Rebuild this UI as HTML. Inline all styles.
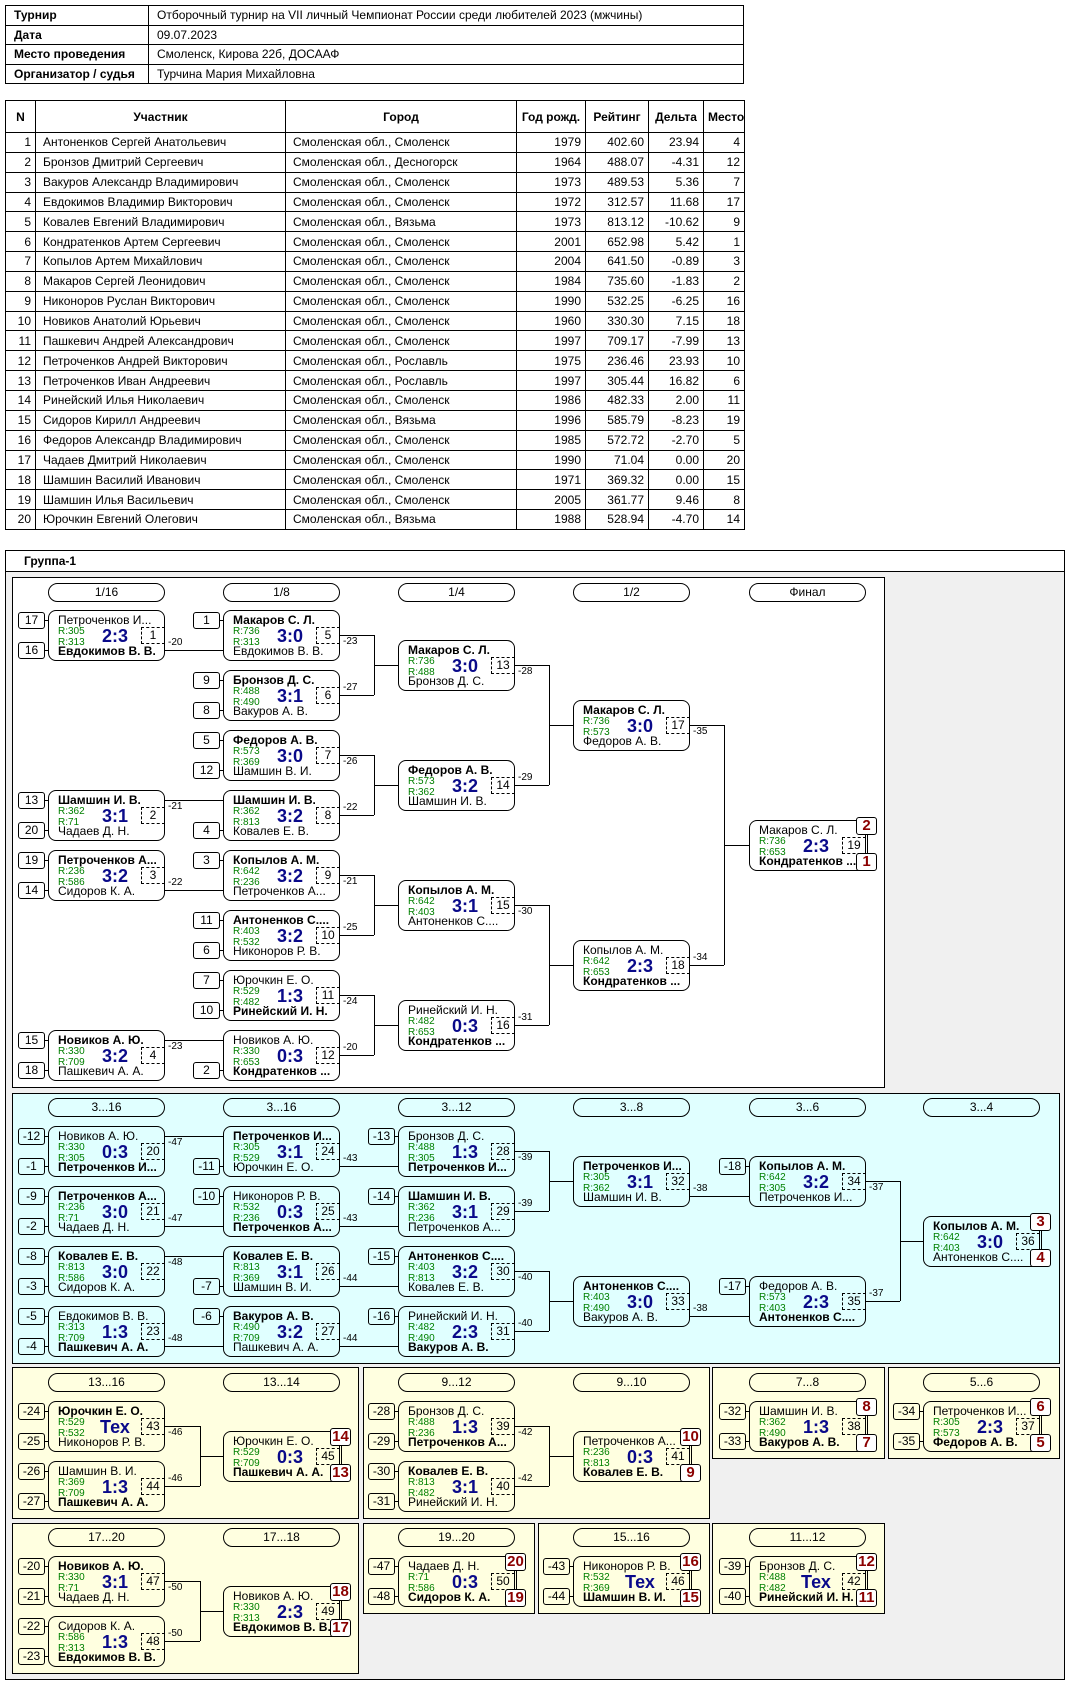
<!DOCTYPE html>
<html><head><meta charset="utf-8">
<style>
*{margin:0;padding:0;box-sizing:border-box}
body{width:1070px;height:1685px;background:#fff;font-family:"Liberation Sans",Arial,sans-serif;font-size:12px;color:#000;position:relative;overflow:hidden}
.abs{position:absolute}
table{border-collapse:collapse;position:absolute;table-layout:fixed}
td{border:1px solid #000;white-space:nowrap;overflow:hidden;font-size:12px;line-height:14px}
.it td{height:19.5px;padding:0 8px}
.it td.hb{font-weight:bold}
.pt td{height:19.85px;padding:0 4px}
.pt tr.hd td{height:32px;font-weight:bold;text-align:center}
.pt td.ra{text-align:right}
.pt td.la{padding-left:7px}
.sec{position:absolute;border:1px solid #000}
.pill{position:absolute;width:117px;height:19px;border:1px solid #000;border-radius:10px;text-align:center;line-height:17px;font-size:12px}
.m{position:absolute;width:117px;height:51px;border:1px solid #000;border-radius:8px}
.m span{position:absolute;white-space:nowrap}
.t{left:9px;top:2px;font-size:12px;line-height:14px}
.u{left:9px;top:33px;font-size:12px;line-height:14px}
.k{font-weight:bold}
.r1,.r2{left:9px;font-size:10px;line-height:11px;color:#008000}
.r1{top:15px}.r2{top:26px}
.s{left:38px;width:56px;text-align:center;top:15px;font-weight:bold;font-size:18px;line-height:20px;color:#0a0a8a}
.g{right:-1px;top:16px;width:24px;height:17px;border:1px dashed #000;text-align:center;font-size:12px;line-height:15px}
.sd{position:absolute;width:27px;height:17px;border:1px solid #000;border-radius:3px;text-align:center;font-size:12px;line-height:15px}
.sd:after{content:"";position:absolute;right:-4px;top:7px;width:3px;border-top:1px solid #000}
.p{position:absolute;width:21px;height:18px;border:1px solid #000;border-radius:3px;background:#fff;text-align:center;font-weight:bold;font-size:15px;line-height:16px;color:#8b0000}
.h{position:absolute;height:0;border-top:1px solid #000}
.v{position:absolute;width:0;border-left:1px solid #000}
.l{position:absolute;font-size:10px;line-height:12px}
</style></head><body>

<table class="it" style="left:5px;top:5px;width:739px">
<colgroup><col style="width:143px"><col></colgroup>
<tr><td class="hb">Турнир</td><td>Отборочный турнир на VII личный Чемпионат России среди любителей 2023 (мжчины)</td></tr>
<tr><td class="hb">Дата</td><td>09.07.2023</td></tr>
<tr><td class="hb">Место проведения</td><td>Смоленск, Кирова 22б, ДОСААФ</td></tr>
<tr><td class="hb">Организатор / судья</td><td>Турчина Мария Михайловна</td></tr>
</table>

<table class="pt" style="left:5px;top:100px;width:739px">
<colgroup><col style="width:30px"><col style="width:250px"><col style="width:231px"><col style="width:69px"><col style="width:63px"><col style="width:55px"><col style="width:41px"></colgroup>
<tr class="hd"><td>N</td><td>Участник</td><td>Город</td><td>Год рожд.</td><td>Рейтинг</td><td>Дельта</td><td>Место</td></tr>
<tr><td class="ra">1</td><td class="la">Антоненков Сергей Анатольевич</td><td class="la">Смоленская обл., Смоленск</td><td class="ra">1979</td><td class="ra">402.60</td><td class="ra">23.94</td><td class="ra">4</td></tr>
<tr><td class="ra">2</td><td class="la">Бронзов Дмитрий Сергеевич</td><td class="la">Смоленская обл., Десногорск</td><td class="ra">1964</td><td class="ra">488.07</td><td class="ra">-4.31</td><td class="ra">12</td></tr>
<tr><td class="ra">3</td><td class="la">Вакуров Александр Владимирович</td><td class="la">Смоленская обл., Смоленск</td><td class="ra">1973</td><td class="ra">489.53</td><td class="ra">5.36</td><td class="ra">7</td></tr>
<tr><td class="ra">4</td><td class="la">Евдокимов Владимир Викторович</td><td class="la">Смоленская обл., Смоленск</td><td class="ra">1972</td><td class="ra">312.57</td><td class="ra">11.68</td><td class="ra">17</td></tr>
<tr><td class="ra">5</td><td class="la">Ковалев Евгений Владимирович</td><td class="la">Смоленская обл., Вязьма</td><td class="ra">1973</td><td class="ra">813.12</td><td class="ra">-10.62</td><td class="ra">9</td></tr>
<tr><td class="ra">6</td><td class="la">Кондратенков Артем Сергеевич</td><td class="la">Смоленская обл., Смоленск</td><td class="ra">2001</td><td class="ra">652.98</td><td class="ra">5.42</td><td class="ra">1</td></tr>
<tr><td class="ra">7</td><td class="la">Копылов Артем Михайлович</td><td class="la">Смоленская обл., Смоленск</td><td class="ra">2004</td><td class="ra">641.50</td><td class="ra">-0.89</td><td class="ra">3</td></tr>
<tr><td class="ra">8</td><td class="la">Макаров Сергей Леонидович</td><td class="la">Смоленская обл., Смоленск</td><td class="ra">1984</td><td class="ra">735.60</td><td class="ra">-1.83</td><td class="ra">2</td></tr>
<tr><td class="ra">9</td><td class="la">Никоноров Руслан Викторович</td><td class="la">Смоленская обл., Смоленск</td><td class="ra">1990</td><td class="ra">532.25</td><td class="ra">-6.25</td><td class="ra">16</td></tr>
<tr><td class="ra">10</td><td class="la">Новиков Анатолий Юрьевич</td><td class="la">Смоленская обл., Смоленск</td><td class="ra">1960</td><td class="ra">330.30</td><td class="ra">7.15</td><td class="ra">18</td></tr>
<tr><td class="ra">11</td><td class="la">Пашкевич Андрей Александрович</td><td class="la">Смоленская обл., Смоленск</td><td class="ra">1997</td><td class="ra">709.17</td><td class="ra">-7.99</td><td class="ra">13</td></tr>
<tr><td class="ra">12</td><td class="la">Петроченков Андрей Викторович</td><td class="la">Смоленская обл., Рославль</td><td class="ra">1975</td><td class="ra">236.46</td><td class="ra">23.93</td><td class="ra">10</td></tr>
<tr><td class="ra">13</td><td class="la">Петроченков Иван Андреевич</td><td class="la">Смоленская обл., Рославль</td><td class="ra">1997</td><td class="ra">305.44</td><td class="ra">16.82</td><td class="ra">6</td></tr>
<tr><td class="ra">14</td><td class="la">Ринейский Илья Николаевич</td><td class="la">Смоленская обл., Смоленск</td><td class="ra">1986</td><td class="ra">482.33</td><td class="ra">2.00</td><td class="ra">11</td></tr>
<tr><td class="ra">15</td><td class="la">Сидоров Кирилл Андреевич</td><td class="la">Смоленская обл., Вязьма</td><td class="ra">1996</td><td class="ra">585.79</td><td class="ra">-8.23</td><td class="ra">19</td></tr>
<tr><td class="ra">16</td><td class="la">Федоров Александр Владимирович</td><td class="la">Смоленская обл., Смоленск</td><td class="ra">1985</td><td class="ra">572.72</td><td class="ra">-2.70</td><td class="ra">5</td></tr>
<tr><td class="ra">17</td><td class="la">Чадаев Дмитрий Николаевич</td><td class="la">Смоленская обл., Смоленск</td><td class="ra">1990</td><td class="ra">71.04</td><td class="ra">0.00</td><td class="ra">20</td></tr>
<tr><td class="ra">18</td><td class="la">Шамшин Василий Иванович</td><td class="la">Смоленская обл., Смоленск</td><td class="ra">1971</td><td class="ra">369.32</td><td class="ra">0.00</td><td class="ra">15</td></tr>
<tr><td class="ra">19</td><td class="la">Шамшин Илья Васильевич</td><td class="la">Смоленская обл., Смоленск</td><td class="ra">2005</td><td class="ra">361.77</td><td class="ra">9.46</td><td class="ra">8</td></tr>
<tr><td class="ra">20</td><td class="la">Юрочкин Евгений Олегович</td><td class="la">Смоленская обл., Вязьма</td><td class="ra">1988</td><td class="ra">528.94</td><td class="ra">-4.70</td><td class="ra">14</td></tr>
</table>

<!-- group box -->
<div class="sec" style="left:5px;top:550px;width:1060px;height:1130px;background:#f0f0f0"></div>
<div class="sec" style="left:5px;top:550px;width:1060px;height:22px;background:#fff"></div>
<div class="abs" style="left:24px;top:554px;font-weight:bold;font-size:12px">Группа-1</div>

<!-- sections -->
<div class="sec" style="left:12px;top:577px;width:873px;height:511px;background:#fff"></div>
<div class="sec" style="left:12px;top:1093px;width:1048px;height:271px;background:#e0ffff"></div>
<div class="sec" style="left:12px;top:1367px;width:347px;height:152px;background:#ffffe0"></div>
<div class="sec" style="left:363px;top:1367px;width:347px;height:152px;background:#ffffe0"></div>
<div class="sec" style="left:712px;top:1367px;width:173px;height:92px;background:#ffffe0"></div>
<div class="sec" style="left:888px;top:1367px;width:172px;height:92px;background:#ffffe0"></div>
<div class="sec" style="left:12px;top:1523px;width:347px;height:151px;background:#ffffe0"></div>
<div class="sec" style="left:363px;top:1523px;width:172px;height:91px;background:#ffffe0"></div>
<div class="sec" style="left:538px;top:1523px;width:172px;height:91px;background:#ffffe0"></div>
<div class="sec" style="left:712px;top:1523px;width:173px;height:91px;background:#ffffe0"></div>

<!-- pills -->
<div class="pill" style="left:48px;top:583px">1/16</div>
<div class="pill" style="left:223px;top:583px">1/8</div>
<div class="pill" style="left:398px;top:583px">1/4</div>
<div class="pill" style="left:573px;top:583px">1/2</div>
<div class="pill" style="left:749px;top:583px">Финал</div>
<div class="pill" style="left:48px;top:1098px">3...16</div>
<div class="pill" style="left:223px;top:1098px">3...16</div>
<div class="pill" style="left:398px;top:1098px">3...12</div>
<div class="pill" style="left:573px;top:1098px">3...8</div>
<div class="pill" style="left:749px;top:1098px">3...6</div>
<div class="pill" style="left:923px;top:1098px">3...4</div>
<div class="pill" style="left:48px;top:1373px">13...16</div>
<div class="pill" style="left:223px;top:1373px">13...14</div>
<div class="pill" style="left:398px;top:1373px">9...12</div>
<div class="pill" style="left:573px;top:1373px">9...10</div>
<div class="pill" style="left:749px;top:1373px">7...8</div>
<div class="pill" style="left:923px;top:1373px">5...6</div>
<div class="pill" style="left:48px;top:1528px">17...20</div>
<div class="pill" style="left:223px;top:1528px">17...18</div>
<div class="pill" style="left:398px;top:1528px">19...20</div>
<div class="pill" style="left:573px;top:1528px">15...16</div>
<div class="pill" style="left:749px;top:1528px">11...12</div>

<!-- ===== MAIN LINES ===== -->
<div class="h" style="left:165px;top:650px;width:58px"></div><div class="l" style="left:168px;top:637px">-20</div>
<div class="h" style="left:165px;top:800px;width:58px"></div><div class="l" style="left:168px;top:801px">-21</div>
<div class="h" style="left:165px;top:890px;width:58px"></div><div class="l" style="left:168px;top:877px">-22</div>
<div class="h" style="left:165px;top:1040px;width:58px"></div><div class="l" style="left:168px;top:1041px">-23</div>

<div class="h" style="left:340px;top:635px;width:34px"></div><div class="h" style="left:340px;top:695px;width:34px"></div><div class="v" style="left:374px;top:635px;height:60px"></div><div class="h" style="left:374px;top:665px;width:24px"></div>
<div class="l" style="left:343px;top:636px">-23</div><div class="l" style="left:343px;top:682px">-27</div>
<div class="h" style="left:340px;top:755px;width:34px"></div><div class="h" style="left:340px;top:815px;width:34px"></div><div class="v" style="left:374px;top:755px;height:60px"></div><div class="h" style="left:374px;top:785px;width:24px"></div>
<div class="l" style="left:343px;top:756px">-26</div><div class="l" style="left:343px;top:802px">-22</div>
<div class="h" style="left:340px;top:875px;width:34px"></div><div class="h" style="left:340px;top:935px;width:34px"></div><div class="v" style="left:374px;top:875px;height:60px"></div><div class="h" style="left:374px;top:905px;width:24px"></div>
<div class="l" style="left:343px;top:876px">-21</div><div class="l" style="left:343px;top:922px">-25</div>
<div class="h" style="left:340px;top:995px;width:34px"></div><div class="h" style="left:340px;top:1055px;width:34px"></div><div class="v" style="left:374px;top:995px;height:60px"></div><div class="h" style="left:374px;top:1025px;width:24px"></div>
<div class="l" style="left:343px;top:996px">-24</div><div class="l" style="left:343px;top:1042px">-20</div>

<div class="h" style="left:515px;top:665px;width:34px"></div><div class="h" style="left:515px;top:785px;width:34px"></div><div class="v" style="left:549px;top:665px;height:120px"></div><div class="h" style="left:549px;top:725px;width:24px"></div>
<div class="l" style="left:518px;top:666px">-28</div><div class="l" style="left:518px;top:772px">-29</div>
<div class="h" style="left:515px;top:905px;width:34px"></div><div class="h" style="left:515px;top:1025px;width:34px"></div><div class="v" style="left:549px;top:905px;height:120px"></div><div class="h" style="left:549px;top:965px;width:24px"></div>
<div class="l" style="left:518px;top:906px">-30</div><div class="l" style="left:518px;top:1012px">-31</div>

<div class="h" style="left:690px;top:725px;width:34px"></div><div class="h" style="left:690px;top:965px;width:34px"></div><div class="v" style="left:724px;top:725px;height:240px"></div><div class="h" style="left:724px;top:845px;width:25px"></div>
<div class="l" style="left:693px;top:726px">-35</div><div class="l" style="left:693px;top:952px">-34</div>

<!-- ===== CYAN LINES ===== -->
<div class="h" style="left:165px;top:1136px;width:58px"></div><div class="l" style="left:168px;top:1137px">-47</div>
<div class="h" style="left:165px;top:1226px;width:58px"></div><div class="l" style="left:168px;top:1213px">-47</div>
<div class="h" style="left:165px;top:1256px;width:58px"></div><div class="l" style="left:168px;top:1257px">-48</div>
<div class="h" style="left:165px;top:1346px;width:58px"></div><div class="l" style="left:168px;top:1333px">-48</div>
<div class="h" style="left:340px;top:1166px;width:58px"></div><div class="l" style="left:343px;top:1153px">-43</div>
<div class="h" style="left:340px;top:1226px;width:58px"></div><div class="l" style="left:343px;top:1213px">-43</div>
<div class="h" style="left:340px;top:1286px;width:58px"></div><div class="l" style="left:343px;top:1273px">-44</div>
<div class="h" style="left:340px;top:1346px;width:58px"></div><div class="l" style="left:343px;top:1333px">-44</div>

<div class="h" style="left:515px;top:1151px;width:34px"></div><div class="h" style="left:515px;top:1211px;width:34px"></div><div class="v" style="left:549px;top:1151px;height:60px"></div><div class="h" style="left:549px;top:1181px;width:24px"></div>
<div class="l" style="left:518px;top:1152px">-39</div><div class="l" style="left:518px;top:1198px">-39</div>
<div class="h" style="left:515px;top:1271px;width:34px"></div><div class="h" style="left:515px;top:1331px;width:34px"></div><div class="v" style="left:549px;top:1271px;height:60px"></div><div class="h" style="left:549px;top:1301px;width:24px"></div>
<div class="l" style="left:518px;top:1272px">-40</div><div class="l" style="left:518px;top:1318px">-40</div>

<div class="h" style="left:690px;top:1196px;width:59px"></div><div class="l" style="left:693px;top:1183px">-38</div>
<div class="h" style="left:690px;top:1316px;width:59px"></div><div class="l" style="left:693px;top:1303px">-38</div>

<div class="h" style="left:866px;top:1181px;width:34px"></div><div class="h" style="left:866px;top:1301px;width:34px"></div><div class="v" style="left:900px;top:1181px;height:120px"></div><div class="h" style="left:900px;top:1241px;width:23px"></div>
<div class="l" style="left:869px;top:1182px">-37</div><div class="l" style="left:869px;top:1288px">-37</div>

<!-- ===== YELLOW LINES ===== -->
<div class="h" style="left:165px;top:1426px;width:35px"></div><div class="h" style="left:165px;top:1486px;width:35px"></div><div class="v" style="left:200px;top:1426px;height:60px"></div><div class="h" style="left:200px;top:1456px;width:23px"></div>
<div class="l" style="left:168px;top:1427px">-46</div><div class="l" style="left:168px;top:1473px">-46</div>
<div class="h" style="left:515px;top:1426px;width:34px"></div><div class="h" style="left:515px;top:1486px;width:34px"></div><div class="v" style="left:549px;top:1426px;height:60px"></div><div class="h" style="left:549px;top:1456px;width:24px"></div>
<div class="l" style="left:518px;top:1427px">-42</div><div class="l" style="left:518px;top:1473px">-42</div>
<div class="h" style="left:165px;top:1581px;width:35px"></div><div class="h" style="left:165px;top:1641px;width:35px"></div><div class="v" style="left:200px;top:1581px;height:60px"></div><div class="h" style="left:200px;top:1611px;width:23px"></div>
<div class="l" style="left:168px;top:1582px">-50</div><div class="l" style="left:168px;top:1628px">-50</div>

<!-- ===== SEEDS ===== -->
<div class="sd" style="left:18px;top:612px">17</div><div class="sd" style="left:18px;top:642px">16</div>
<div class="sd" style="left:18px;top:792px">13</div><div class="sd" style="left:18px;top:822px">20</div>
<div class="sd" style="left:18px;top:852px">19</div><div class="sd" style="left:18px;top:882px">14</div>
<div class="sd" style="left:18px;top:1032px">15</div><div class="sd" style="left:18px;top:1062px">18</div>
<div class="sd" style="left:193px;top:612px">1</div>
<div class="sd" style="left:193px;top:672px">9</div><div class="sd" style="left:193px;top:702px">8</div>
<div class="sd" style="left:193px;top:732px">5</div><div class="sd" style="left:193px;top:762px">12</div>
<div class="sd" style="left:193px;top:822px">4</div>
<div class="sd" style="left:193px;top:852px">3</div>
<div class="sd" style="left:193px;top:912px">11</div><div class="sd" style="left:193px;top:942px">6</div>
<div class="sd" style="left:193px;top:972px">7</div><div class="sd" style="left:193px;top:1002px">10</div>
<div class="sd" style="left:193px;top:1062px">2</div>

<div class="sd" style="left:18px;top:1128px">-12</div><div class="sd" style="left:18px;top:1158px">-1</div>
<div class="sd" style="left:18px;top:1188px">-9</div><div class="sd" style="left:18px;top:1218px">-2</div>
<div class="sd" style="left:18px;top:1248px">-8</div><div class="sd" style="left:18px;top:1278px">-3</div>
<div class="sd" style="left:18px;top:1308px">-5</div><div class="sd" style="left:18px;top:1338px">-4</div>
<div class="sd" style="left:193px;top:1158px">-11</div>
<div class="sd" style="left:193px;top:1188px">-10</div>
<div class="sd" style="left:193px;top:1278px">-7</div>
<div class="sd" style="left:193px;top:1308px">-6</div>
<div class="sd" style="left:368px;top:1128px">-13</div>
<div class="sd" style="left:368px;top:1188px">-14</div>
<div class="sd" style="left:368px;top:1248px">-15</div>
<div class="sd" style="left:368px;top:1308px">-16</div>
<div class="sd" style="left:719px;top:1158px">-18</div>
<div class="sd" style="left:719px;top:1278px">-17</div>

<div class="sd" style="left:18px;top:1403px">-24</div><div class="sd" style="left:18px;top:1433px">-25</div>
<div class="sd" style="left:18px;top:1463px">-26</div><div class="sd" style="left:18px;top:1493px">-27</div>
<div class="sd" style="left:368px;top:1403px">-28</div><div class="sd" style="left:368px;top:1433px">-29</div>
<div class="sd" style="left:368px;top:1463px">-30</div><div class="sd" style="left:368px;top:1493px">-31</div>
<div class="sd" style="left:719px;top:1403px">-32</div><div class="sd" style="left:719px;top:1433px">-33</div>
<div class="sd" style="left:893px;top:1403px">-34</div><div class="sd" style="left:893px;top:1433px">-35</div>
<div class="sd" style="left:18px;top:1558px">-20</div><div class="sd" style="left:18px;top:1588px">-21</div>
<div class="sd" style="left:18px;top:1618px">-22</div><div class="sd" style="left:18px;top:1648px">-23</div>
<div class="sd" style="left:368px;top:1558px">-47</div><div class="sd" style="left:368px;top:1588px">-48</div>
<div class="sd" style="left:543px;top:1558px">-43</div><div class="sd" style="left:543px;top:1588px">-44</div>
<div class="sd" style="left:719px;top:1558px">-39</div><div class="sd" style="left:719px;top:1588px">-40</div>

<!-- ===== MATCHES MAIN ===== -->
<div class="m" style="left:48px;top:610px"><span class="t">Петроченков И...</span><span class="r1">R:305</span><span class="r2">R:313</span><span class="s">2:3</span><span class="g">1</span><span class="u k">Евдокимов В. В.</span></div>
<div class="m" style="left:48px;top:790px"><span class="t k">Шамшин И. В.</span><span class="r1">R:362</span><span class="r2">R:71</span><span class="s">3:1</span><span class="g">2</span><span class="u">Чадаев Д. Н.</span></div>
<div class="m" style="left:48px;top:850px"><span class="t k">Петроченков А...</span><span class="r1">R:236</span><span class="r2">R:586</span><span class="s">3:2</span><span class="g">3</span><span class="u">Сидоров К. А.</span></div>
<div class="m" style="left:48px;top:1030px"><span class="t k">Новиков А. Ю.</span><span class="r1">R:330</span><span class="r2">R:709</span><span class="s">3:2</span><span class="g">4</span><span class="u">Пашкевич А. А.</span></div>

<div class="m" style="left:223px;top:610px"><span class="t k">Макаров С. Л.</span><span class="r1">R:736</span><span class="r2">R:313</span><span class="s">3:0</span><span class="g">5</span><span class="u">Евдокимов В. В.</span></div>
<div class="m" style="left:223px;top:670px"><span class="t k">Бронзов Д. С.</span><span class="r1">R:488</span><span class="r2">R:490</span><span class="s">3:1</span><span class="g">6</span><span class="u">Вакуров А. В.</span></div>
<div class="m" style="left:223px;top:730px"><span class="t k">Федоров А. В.</span><span class="r1">R:573</span><span class="r2">R:369</span><span class="s">3:0</span><span class="g">7</span><span class="u">Шамшин В. И.</span></div>
<div class="m" style="left:223px;top:790px"><span class="t k">Шамшин И. В.</span><span class="r1">R:362</span><span class="r2">R:813</span><span class="s">3:2</span><span class="g">8</span><span class="u">Ковалев Е. В.</span></div>
<div class="m" style="left:223px;top:850px"><span class="t k">Копылов А. М.</span><span class="r1">R:642</span><span class="r2">R:236</span><span class="s">3:2</span><span class="g">9</span><span class="u">Петроченков А...</span></div>
<div class="m" style="left:223px;top:910px"><span class="t k">Антоненков С....</span><span class="r1">R:403</span><span class="r2">R:532</span><span class="s">3:2</span><span class="g">10</span><span class="u">Никоноров Р. В.</span></div>
<div class="m" style="left:223px;top:970px"><span class="t">Юрочкин Е. О.</span><span class="r1">R:529</span><span class="r2">R:482</span><span class="s">1:3</span><span class="g">11</span><span class="u k">Ринейский И. Н.</span></div>
<div class="m" style="left:223px;top:1030px"><span class="t">Новиков А. Ю.</span><span class="r1">R:330</span><span class="r2">R:653</span><span class="s">0:3</span><span class="g">12</span><span class="u k">Кондратенков ...</span></div>

<div class="m" style="left:398px;top:640px"><span class="t k">Макаров С. Л.</span><span class="r1">R:736</span><span class="r2">R:488</span><span class="s">3:0</span><span class="g">13</span><span class="u">Бронзов Д. С.</span></div>
<div class="m" style="left:398px;top:760px"><span class="t k">Федоров А. В.</span><span class="r1">R:573</span><span class="r2">R:362</span><span class="s">3:2</span><span class="g">14</span><span class="u">Шамшин И. В.</span></div>
<div class="m" style="left:398px;top:880px"><span class="t k">Копылов А. М.</span><span class="r1">R:642</span><span class="r2">R:403</span><span class="s">3:1</span><span class="g">15</span><span class="u">Антоненков С....</span></div>
<div class="m" style="left:398px;top:1000px"><span class="t">Ринейский И. Н.</span><span class="r1">R:482</span><span class="r2">R:653</span><span class="s">0:3</span><span class="g">16</span><span class="u k">Кондратенков ...</span></div>

<div class="m" style="left:573px;top:700px"><span class="t k">Макаров С. Л.</span><span class="r1">R:736</span><span class="r2">R:573</span><span class="s">3:0</span><span class="g">17</span><span class="u">Федоров А. В.</span></div>
<div class="m" style="left:573px;top:940px"><span class="t">Копылов А. М.</span><span class="r1">R:642</span><span class="r2">R:653</span><span class="s">2:3</span><span class="g">18</span><span class="u k">Кондратенков ...</span></div>

<div class="m" style="left:749px;top:820px"><span class="t">Макаров С. Л.</span><span class="r1">R:736</span><span class="r2">R:653</span><span class="s">2:3</span><span class="g">19</span><span class="u k">Кондратенков ...</span></div>
<div class="v" style="left:867px;top:835px;height:18px"></div>
<div class="p" style="left:856px;top:817px">2</div><div class="p" style="left:856px;top:853px">1</div>

<!-- ===== MATCHES CYAN ===== -->
<div class="m" style="left:48px;top:1126px"><span class="t">Новиков А. Ю.</span><span class="r1">R:330</span><span class="r2">R:305</span><span class="s">0:3</span><span class="g">20</span><span class="u k">Петроченков И...</span></div>
<div class="m" style="left:48px;top:1186px"><span class="t k">Петроченков А...</span><span class="r1">R:236</span><span class="r2">R:71</span><span class="s">3:0</span><span class="g">21</span><span class="u">Чадаев Д. Н.</span></div>
<div class="m" style="left:48px;top:1246px"><span class="t k">Ковалев Е. В.</span><span class="r1">R:813</span><span class="r2">R:586</span><span class="s">3:0</span><span class="g">22</span><span class="u">Сидоров К. А.</span></div>
<div class="m" style="left:48px;top:1306px"><span class="t">Евдокимов В. В.</span><span class="r1">R:313</span><span class="r2">R:709</span><span class="s">1:3</span><span class="g">23</span><span class="u k">Пашкевич А. А.</span></div>

<div class="m" style="left:223px;top:1126px"><span class="t k">Петроченков И...</span><span class="r1">R:305</span><span class="r2">R:529</span><span class="s">3:1</span><span class="g">24</span><span class="u">Юрочкин Е. О.</span></div>
<div class="m" style="left:223px;top:1186px"><span class="t">Никоноров Р. В.</span><span class="r1">R:532</span><span class="r2">R:236</span><span class="s">0:3</span><span class="g">25</span><span class="u k">Петроченков А...</span></div>
<div class="m" style="left:223px;top:1246px"><span class="t k">Ковалев Е. В.</span><span class="r1">R:813</span><span class="r2">R:369</span><span class="s">3:1</span><span class="g">26</span><span class="u">Шамшин В. И.</span></div>
<div class="m" style="left:223px;top:1306px"><span class="t k">Вакуров А. В.</span><span class="r1">R:490</span><span class="r2">R:709</span><span class="s">3:2</span><span class="g">27</span><span class="u">Пашкевич А. А.</span></div>

<div class="m" style="left:398px;top:1126px"><span class="t">Бронзов Д. С.</span><span class="r1">R:488</span><span class="r2">R:305</span><span class="s">1:3</span><span class="g">28</span><span class="u k">Петроченков И...</span></div>
<div class="m" style="left:398px;top:1186px"><span class="t k">Шамшин И. В.</span><span class="r1">R:362</span><span class="r2">R:236</span><span class="s">3:1</span><span class="g">29</span><span class="u">Петроченков А...</span></div>
<div class="m" style="left:398px;top:1246px"><span class="t k">Антоненков С....</span><span class="r1">R:403</span><span class="r2">R:813</span><span class="s">3:2</span><span class="g">30</span><span class="u">Ковалев Е. В.</span></div>
<div class="m" style="left:398px;top:1306px"><span class="t">Ринейский И. Н.</span><span class="r1">R:482</span><span class="r2">R:490</span><span class="s">2:3</span><span class="g">31</span><span class="u k">Вакуров А. В.</span></div>

<div class="m" style="left:573px;top:1156px"><span class="t k">Петроченков И...</span><span class="r1">R:305</span><span class="r2">R:362</span><span class="s">3:1</span><span class="g">32</span><span class="u">Шамшин И. В.</span></div>
<div class="m" style="left:573px;top:1276px"><span class="t k">Антоненков С....</span><span class="r1">R:403</span><span class="r2">R:490</span><span class="s">3:0</span><span class="g">33</span><span class="u">Вакуров А. В.</span></div>

<div class="m" style="left:749px;top:1156px"><span class="t k">Копылов А. М.</span><span class="r1">R:642</span><span class="r2">R:305</span><span class="s">3:2</span><span class="g">34</span><span class="u">Петроченков И...</span></div>
<div class="m" style="left:749px;top:1276px"><span class="t">Федоров А. В.</span><span class="r1">R:573</span><span class="r2">R:403</span><span class="s">2:3</span><span class="g">35</span><span class="u k">Антоненков С....</span></div>

<div class="m" style="left:923px;top:1216px"><span class="t k">Копылов А. М.</span><span class="r1">R:642</span><span class="r2">R:403</span><span class="s">3:0</span><span class="g">36</span><span class="u">Антоненков С....</span></div>
<div class="v" style="left:1041px;top:1231px;height:18px"></div>
<div class="p" style="left:1030px;top:1213px">3</div><div class="p" style="left:1030px;top:1249px">4</div>

<!-- ===== MATCHES YELLOW ===== -->
<div class="m" style="left:48px;top:1401px"><span class="t k">Юрочкин Е. О.</span><span class="r1">R:529</span><span class="r2">R:532</span><span class="s">Тех</span><span class="g">43</span><span class="u">Никоноров Р. В.</span></div>
<div class="m" style="left:48px;top:1461px"><span class="t">Шамшин В. И.</span><span class="r1">R:369</span><span class="r2">R:709</span><span class="s">1:3</span><span class="g">44</span><span class="u k">Пашкевич А. А.</span></div>
<div class="m" style="left:223px;top:1431px"><span class="t">Юрочкин Е. О.</span><span class="r1">R:529</span><span class="r2">R:709</span><span class="s">0:3</span><span class="g">45</span><span class="u k">Пашкевич А. А.</span></div>
<div class="v" style="left:341px;top:1446px;height:18px"></div>
<div class="p" style="left:330px;top:1428px">14</div><div class="p" style="left:330px;top:1464px">13</div>

<div class="m" style="left:398px;top:1401px"><span class="t">Бронзов Д. С.</span><span class="r1">R:488</span><span class="r2">R:236</span><span class="s">1:3</span><span class="g">39</span><span class="u k">Петроченков А...</span></div>
<div class="m" style="left:398px;top:1461px"><span class="t k">Ковалев Е. В.</span><span class="r1">R:813</span><span class="r2">R:482</span><span class="s">3:1</span><span class="g">40</span><span class="u">Ринейский И. Н.</span></div>
<div class="m" style="left:573px;top:1431px"><span class="t">Петроченков А...</span><span class="r1">R:236</span><span class="r2">R:813</span><span class="s">0:3</span><span class="g">41</span><span class="u k">Ковалев Е. В.</span></div>
<div class="v" style="left:691px;top:1446px;height:18px"></div>
<div class="p" style="left:680px;top:1428px">10</div><div class="p" style="left:680px;top:1464px">9</div>

<div class="m" style="left:749px;top:1401px"><span class="t">Шамшин И. В.</span><span class="r1">R:362</span><span class="r2">R:490</span><span class="s">1:3</span><span class="g">38</span><span class="u k">Вакуров А. В.</span></div>
<div class="v" style="left:867px;top:1416px;height:18px"></div>
<div class="p" style="left:856px;top:1398px">8</div><div class="p" style="left:856px;top:1434px">7</div>

<div class="m" style="left:923px;top:1401px"><span class="t">Петроченков И...</span><span class="r1">R:305</span><span class="r2">R:573</span><span class="s">2:3</span><span class="g">37</span><span class="u k">Федоров А. В.</span></div>
<div class="v" style="left:1041px;top:1416px;height:18px"></div>
<div class="p" style="left:1030px;top:1398px">6</div><div class="p" style="left:1030px;top:1434px">5</div>

<div class="m" style="left:48px;top:1556px"><span class="t k">Новиков А. Ю.</span><span class="r1">R:330</span><span class="r2">R:71</span><span class="s">3:1</span><span class="g">47</span><span class="u">Чадаев Д. Н.</span></div>
<div class="m" style="left:48px;top:1616px"><span class="t">Сидоров К. А.</span><span class="r1">R:586</span><span class="r2">R:313</span><span class="s">1:3</span><span class="g">48</span><span class="u k">Евдокимов В. В.</span></div>
<div class="m" style="left:223px;top:1586px"><span class="t">Новиков А. Ю.</span><span class="r1">R:330</span><span class="r2">R:313</span><span class="s">2:3</span><span class="g">49</span><span class="u k">Евдокимов В. В.</span></div>
<div class="v" style="left:341px;top:1601px;height:18px"></div>
<div class="p" style="left:330px;top:1583px">18</div><div class="p" style="left:330px;top:1619px">17</div>

<div class="m" style="left:398px;top:1556px"><span class="t">Чадаев Д. Н.</span><span class="r1">R:71</span><span class="r2">R:586</span><span class="s">0:3</span><span class="g">50</span><span class="u k">Сидоров К. А.</span></div>
<div class="v" style="left:516px;top:1571px;height:18px"></div>
<div class="p" style="left:505px;top:1553px">20</div><div class="p" style="left:505px;top:1589px">19</div>

<div class="m" style="left:573px;top:1556px"><span class="t">Никоноров Р. В.</span><span class="r1">R:532</span><span class="r2">R:369</span><span class="s">Тех</span><span class="g">46</span><span class="u k">Шамшин В. И.</span></div>
<div class="v" style="left:691px;top:1571px;height:18px"></div>
<div class="p" style="left:680px;top:1553px">16</div><div class="p" style="left:680px;top:1589px">15</div>

<div class="m" style="left:749px;top:1556px"><span class="t">Бронзов Д. С.</span><span class="r1">R:488</span><span class="r2">R:482</span><span class="s">Тех</span><span class="g">42</span><span class="u k">Ринейский И. Н.</span></div>
<div class="v" style="left:867px;top:1571px;height:18px"></div>
<div class="p" style="left:856px;top:1553px">12</div><div class="p" style="left:856px;top:1589px">11</div>

</body></html>
